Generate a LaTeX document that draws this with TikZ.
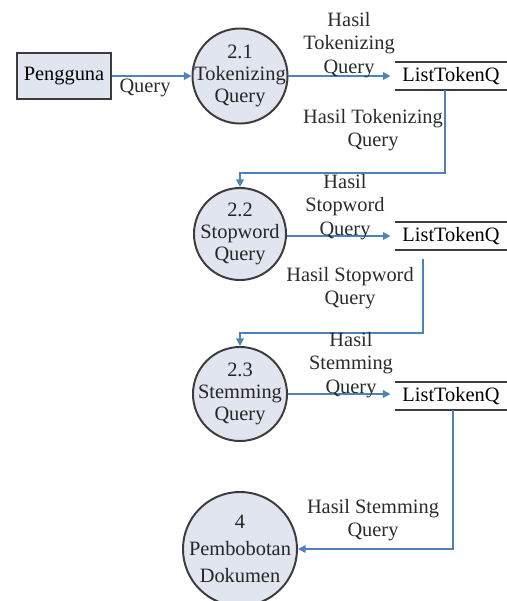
\documentclass[tikz,border=0pt]{standalone}
\usepackage{fontspec}
\setmainfont{Liberation Serif}
\usetikzlibrary{arrows.meta}

\definecolor{flowblue}{RGB}{79,129,189}
\definecolor{procfill}{RGB}{224,229,240}
\definecolor{edgegray}{RGB}{60,60,60}
\definecolor{labelgray}{RGB}{40,45,40}

\tikzset{
    proc/.style={circle, draw=edgegray, line width=1.4pt, fill=procfill,
                 inner sep=0pt, minimum size=#1},
    ptext/.style={align=center, text=black!85},
    entity/.style={rectangle, draw=edgegray, line width=1.4pt, fill=procfill,
                   minimum width=2.35cm, minimum height=1.15cm},
    store/.style={minimum width=2.8cm, minimum height=0.7cm, inner sep=0pt},
    storeline/.style={draw=edgegray, line width=1.4pt},
    flow/.style={draw=flowblue, line width=1.1pt,
                 -{Triangle[width=5.5pt,length=5.5pt]}},
    lbl/.style={align=center, text=labelgray},
}

\begin{document}
\begin{tikzpicture}[x=0.025cm, y=-0.025cm,
    every node/.style={font=\rmfamily\fontsize{14.5}{16.5}\selectfont}]
    \useasboundingbox (0,0) rectangle (507,601);

    \node (P)  [entity] at (64,76) {Pengguna};
    \node (T1) [proc=2.375cm] at (240,76) {};
    \node (T2) [proc=2.3cm]   at (240,234) {};
    \node (T3) [proc=2.35cm]  at (240,394) {};
    \node (D4) [proc=2.85cm]  at (240,549) {};
    \node (T1t) [ptext, font=\rmfamily\fontsize{14.5}{15.5}\selectfont] at (T1) {2.1\\Tokenizing\\Query};
    \node (T2t) [ptext, font=\rmfamily\fontsize{14.5}{15.5}\selectfont] at (T2) {2.2\\Stopword\\Query};
    \node (T3t) [ptext, font=\rmfamily\fontsize{14.5}{15.5}\selectfont] at (T3) {2.3\\Stemming\\Query};
    \node (D4t) [ptext, font=\rmfamily\fontsize{14.5}{19}\selectfont] at (D4) {4\\Pembobotan\\Dokumen};

    \node (S1) [store] at (451,76) {ListTokenQ};
    \node (S2) [store] at (451,236) {ListTokenQ};
    \node (S3) [store] at (451,396) {ListTokenQ};
    \foreach \s in {S1,S2,S3} {
        \path [storeline] (\s.north west) -- (\s.north east)
                          (\s.south west) -- (\s.south east);
    }

    % bends of the flows going back down
    \coordinate (b1) at (445,173);
    \coordinate (b2) at (423,333);
    \coordinate (b3) at (453,547);

    \draw [flow] (P) -- (T1);
    \draw [flow, shorten >=3pt] (T1.east) -- (T1.east -| S1.west);
    \draw [flow, shorten >=3pt] (T2.east |- S2) -- (S2.west);
    \draw [flow, shorten >=3pt] (T3.east) -- (T3.east -| S3.west);
    \draw [flow] (S1.south -| b1) -- (b1) -| (T2.north);
    \draw [flow, shorten <=0.225cm] (S2.south -| b2) -- (b2) -| (T3.north);
    \draw [flow] (S3.south -| b3) |- (D4);

    \node (q0) [lbl] at (145,88) {Query};
    \node (q1) [lbl] at (349,45) {Hasil\\Tokenizing\\Query};
    \node (q2) [lbl] at (373,130) {Hasil Tokenizing\\Query};
    \node (q3) [lbl] at (345,207) {Hasil\\Stopword\\Query};
    \node (q4) [lbl] at (350,288) {Hasil Stopword\\Query};
    \node (q5) [lbl] at (351,365) {Hasil\\Stemming\\Query};
    \node (q6) [lbl] at (373,520) {Hasil Stemming\\Query};
\end{tikzpicture}
\end{document}
